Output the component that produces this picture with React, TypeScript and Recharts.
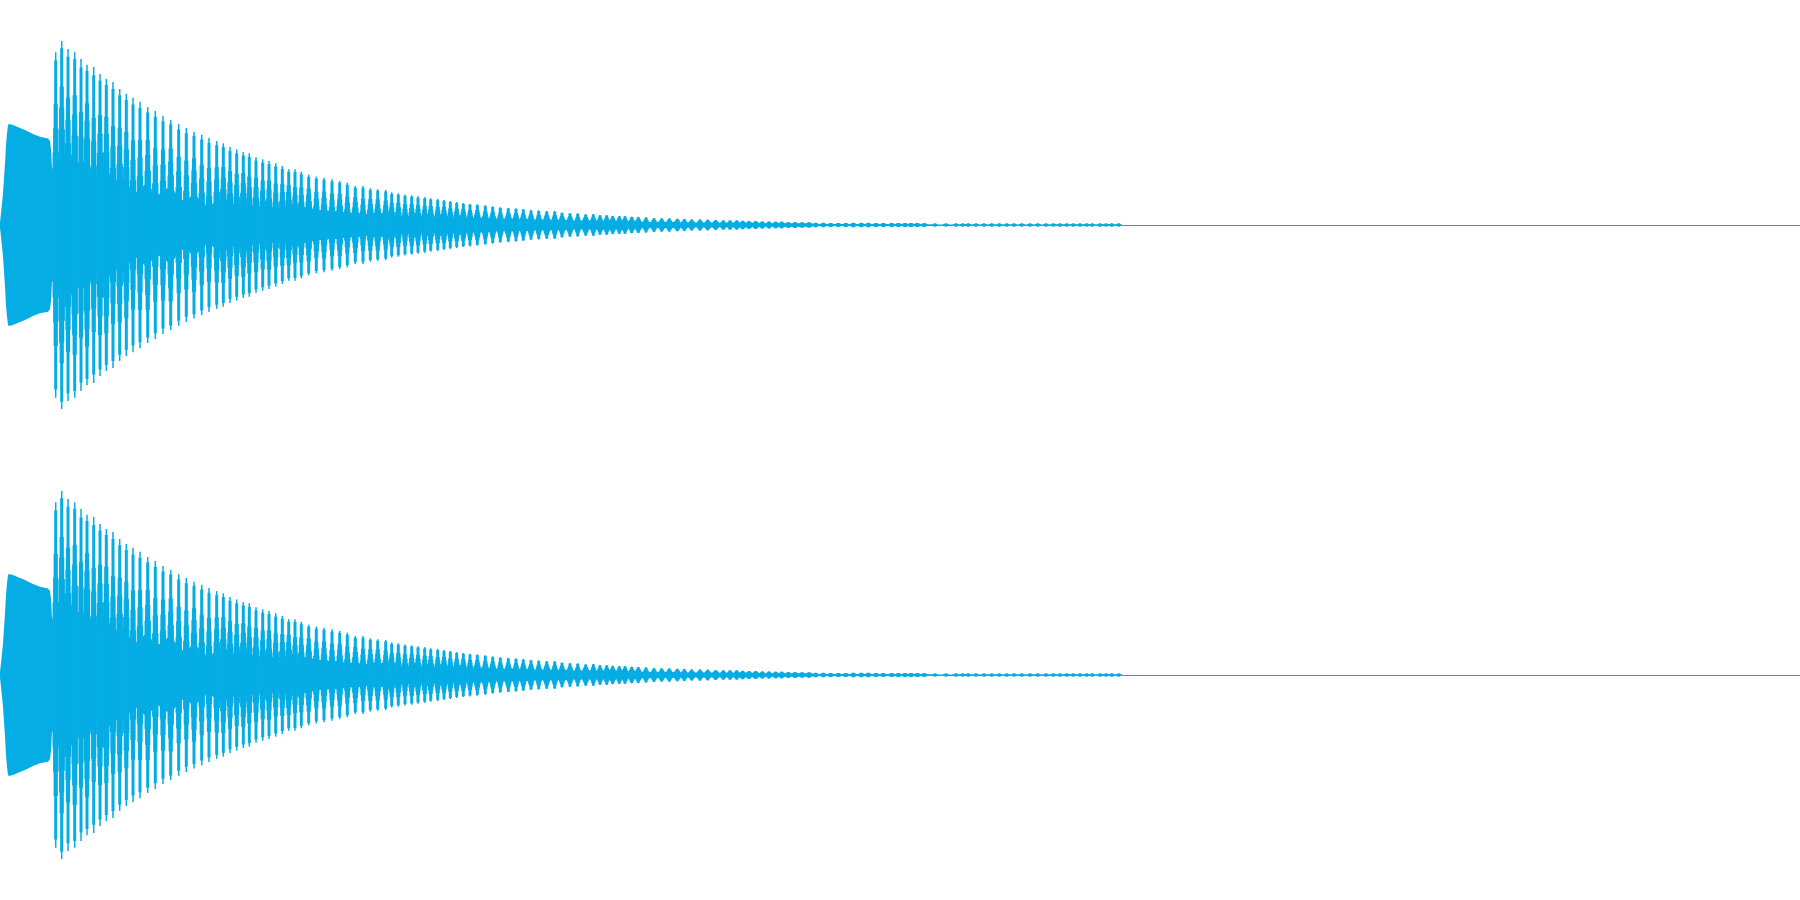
import { ComposedChart, Area, Scatter, ErrorBar, XAxis, YAxis, ReferenceLine } from "recharts";

// two identical channels, amplitude in % of full scale, time in ms
const WAVE = "#06ADE4";
const WIDTH = 1800;
const CH_HEIGHT = 450;

// attack segment before the first strong cycle (solid, dense content)
const onsetTime = [0, 1, 2, 3, 4, 5, 6, 7, 8, 9, 13, 17, 25, 33, 40, 48, 50, 51, 52];
const onsetAmp = [1.3, 5.3, 9.6, 14.1, 20.8, 27.4, 35.6, 40.8, 44.4, 44.9, 44.4, 43.7, 42.2, 40.4, 39.2, 38.5, 37.3, 33.6, 25.2];

// one entry per visible cycle of the decaying tone
const cycleTime = [
  55.7, 61.7, 68, 74.7, 81, 87, 93.7, 100, 106.3, 113,
  119.7, 126.3, 133, 140, 147.7, 155.3, 163, 170.7, 178.7, 186.3,
  194, 201.7, 209, 216.7, 223.3, 230, 236.7, 243.3, 249.3, 256,
  262.7, 269, 275.7, 282.3, 288.7, 295, 301.3, 308.7, 316.3, 324,
  332, 339.7, 347.3, 355.3, 363, 370.3, 377.7, 385.7, 391.7, 398.3,
  405, 411.7, 418, 424.7, 430.7, 437.7, 444, 450.3, 456.7, 463.3,
  470, 477.3, 485.3, 492.7, 500.3, 508.3, 516, 523.3, 531, 538.7,
  546.7, 554.7, 562, 570, 577.7, 585.7, 593.3, 600, 606.7, 612.7,
  619.3, 625, 631.7, 638.3, 646, 654, 661.7, 669.3, 677.3, 684.3,
  691.7, 700, 707.7, 715.7, 723.3, 730, 736.7, 742.7, 749, 755.7,
  762.3, 769, 775.7, 781.7, 788.3, 795, 802, 809, 815.7, 823.3,
  830.7, 838.3, 845.7, 853.3, 861.3, 868.3, 876, 883.3, 891.7, 898.3,
  905, 911, 917.3, 924.3, 935, 946, 956, 962.7, 968.3, 976,
  984, 991.7, 999.3, 1006.7, 1014, 1021.7, 1030, 1037.7, 1046, 1053.3,
  1060, 1066.7, 1073.3, 1080, 1086.7, 1092.3, 1100, 1106, 1111.7, 1118.7,
];

// peak of each cycle
const cyclePeak = [
  76.8, 81.8, 78.2, 76.8, 73.8, 71.2, 70.2, 67.1, 64.9, 63.6,
  60.4, 58.2, 56.6, 54.8, 52.4, 50.7, 48.4, 46.7, 44.8, 43.1,
  41.5, 40.1, 38.7, 37.3, 36.3, 34.7, 33.6, 32.4, 31.9, 30.1,
  29.2, 28.4, 27.4, 26.2, 24.8, 24.8, 23.7, 22.4, 21.5, 21.0,
  20.3, 19.6, 18.8, 17.3, 17.3, 16.3, 15.9, 15.6, 14.5, 14.1,
  13.6, 13.2, 12.8, 12.4, 11.9, 11.6, 11.1, 10.7, 10.2, 9.8,
  9.5, 9.2, 8.8, 8.3, 7.9, 7.6, 7.4, 7.1, 6.7, 6.5,
  6.2, 6.2, 5.6, 5.3, 5.2, 4.8, 4.9, 4.4, 4.4, 4.1,
  4.0, 4.0, 3.7, 3.6, 3.4, 3.1, 3.0, 3.0, 2.8, 2.7,
  2.5, 2.5, 2.4, 2.2, 2.1, 2.1, 2.1, 1.9, 1.8, 1.8,
  1.6, 1.6, 1.5, 1.5, 1.3, 1.3, 1.2, 1.2, 1.0, 1.0,
  0.9, 0.9, 0.9, 1.0, 1.0, 1.0, 0.9, 0.9, 0.9, 0.9,
  0.9, 0.9, 0.9, 0.8, 0.7, 0.7, 0.7, 0.7, 0.7, 0.7,
  0.7, 0.7, 0.7, 0.7, 0.7, 0.7, 0.7, 0.7, 0.7, 0.7,
  0.7, 0.7, 0.7, 0.7, 0.7, 0.7, 0.7, 0.7, 0.7, 0.7,
];

// depth of the notch between cycles (the solid inner band)
const cycleGap = [
  24.4, 35.6, 28.9, 33.3, 20.0, 32.4, 18.7, 25.8, 26.7, 18.7,
  21.3, 20.0, 13.3, 16.0, 19.1, 12.9, 14.7, 17.8, 12.0, 10.2,
  14.7, 9.8, 8.4, 10.7, 12.4, 10.2, 8.9, 11.1, 8.4, 9.3,
  7.6, 8.9, 7.1, 8.0, 8.9, 6.7, 7.6, 8.4, 6.2, 7.1,
  5.8, 6.7, 4.9, 6.2, 4.4, 5.3, 5.8, 4.9, 4.0, 4.4,
  3.6, 4.4, 4.0, 3.6, 4.0, 3.6, 4.0, 3.1, 3.6, 3.6,
  3.1, 3.6, 3.1, 3.1, 2.7, 3.1, 2.7, 2.7, 2.7, 2.2,
  2.7, 2.2, 2.2, 2.2, 1.8, 2.2, 1.8, 1.8, 1.8, 1.8,
  1.6, 1.6, 1.6, 1.6, 1.3, 1.3, 1.3, 1.3, 1.3, 1.1,
  1.1, 1.1, 1.1, 1.1, 0.9, 0.9, 0.9, 0.9, 0.9, 0.9,
  0.7, 0.7, 0.7, 0.7, 0.7, 0.7, 0.7, 0.7, 0.4, 0.4,
  0.4, 0.4, 0.4, 0.4, 0.4, 0.4, 0.4, 0.4, 0.4, 0.4,
  0.4, 0.4, 0.4, 0.4, 0.2, 0.2, 0.2, 0.2, 0.2, 0.2,
  0.2, 0.2, 0.2, 0.2, 0.2, 0.2, 0.2, 0.2, 0.2, 0.2,
  0.2, 0.2, 0.2, 0.2, 0.2, 0.2, 0.2, 0.2, 0.2, 0.2,
];

type Row = { t: number; amp: number };
type Cycle = { t: number; peak: number; gap: number };

const bandRows: Row[] = [
  ...onsetTime.map((t, i) => ({ t, amp: onsetAmp[i] })),
  ...cycleTime.map((t, i) => ({ t, amp: cycleGap[i] })),
];

const cycleRows: Cycle[] = cycleTime.map((t, i) => ({ t, peak: cyclePeak[i], gap: cycleGap[i] }));

// each cycle is drawn as stacked vertical strokes: narrow at the peak, wider toward the notch level
// [fraction of the way from notch level to peak, stroke width in px]
const PROFILE: [number, number][] = [
  [0.15, 6.4],
  [0.36, 5.2],
  [0.56, 4.2],
  [0.93, 3.0],
  [1, 1.5],
];

function Channel() {
  return (
    <ComposedChart
      width={WIDTH}
      height={CH_HEIGHT}
      data={bandRows}
      margin={{ top: 0, right: 0, bottom: 0, left: 0 }}
    >
      <XAxis dataKey="t" type="number" domain={[0, 1800]} hide allowDataOverflow />
      <YAxis type="number" domain={[-100, 100]} hide allowDataOverflow />
      <ReferenceLine y={0} stroke={WAVE} strokeWidth={1} shapeRendering="crispEdges" />
      <Area
        type="linear"
        dataKey={(r: Row) => [-r.amp, r.amp]}
        stroke="none"
        fill={WAVE}
        fillOpacity={1}
        dot={false}
        activeDot={false}
        isAnimationActive={false}
      />
      <Scatter
        data={cycleRows}
        dataKey={() => 0}
        shape={() => <g />}
        isAnimationActive={false}
      >
        {PROFILE.map(([f, w]) => (
          <ErrorBar
            key={f}
            direction="y"
            dataKey={(c: Cycle) => c.gap + f * (c.peak - c.gap)}
            width={0}
            stroke={WAVE}
            strokeWidth={w}
            isAnimationActive={false}
          />
        ))}
      </Scatter>
    </ComposedChart>
  );
}

export default function App() {
  return (
    <div style={{ position: "absolute", left: 0, top: 0, width: WIDTH, height: 900, background: "#fff" }}>
      <Channel />
      <Channel />
    </div>
  );
}
